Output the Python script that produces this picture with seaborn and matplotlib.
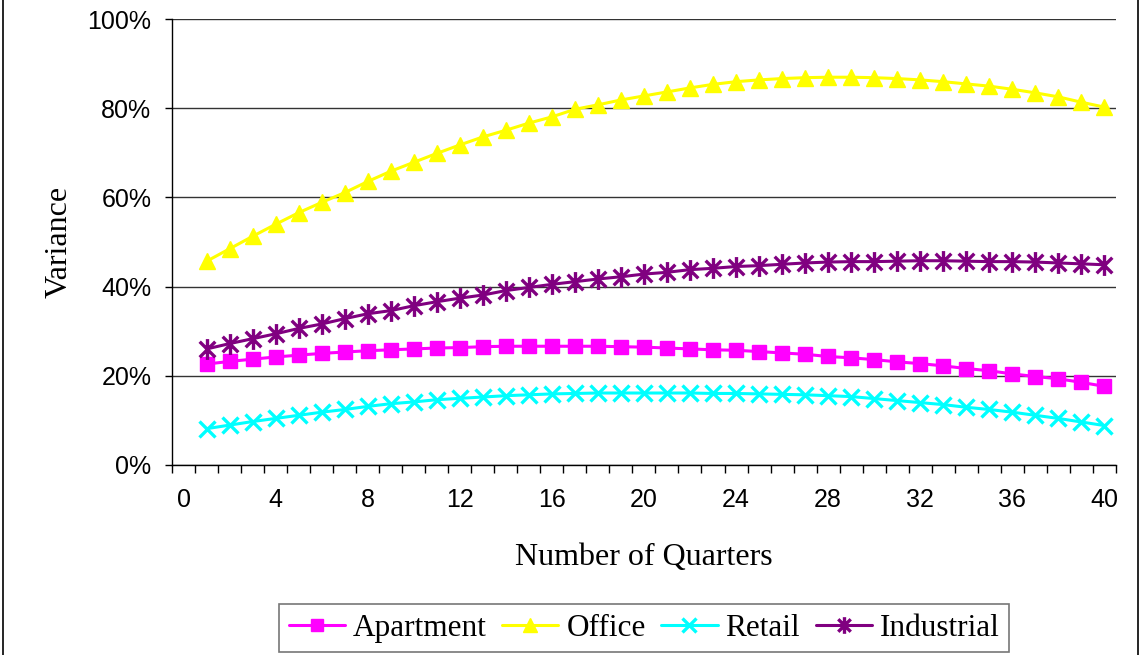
import numpy as np
import matplotlib
matplotlib.use("Agg")
import matplotlib.pyplot as plt
import seaborn as sns
from matplotlib.path import Path
from matplotlib.lines import Line2D
from matplotlib.ticker import PercentFormatter

# data (variance in %)
quarters = list(range(1, 41))

apartment = [22.6, 23.2, 23.7, 24.2, 24.6, 25.0, 25.3, 25.6, 25.8, 26.0,
             26.2, 26.3, 26.5, 26.6, 26.6, 26.6, 26.6, 26.6, 26.5, 26.4,
             26.2, 26.0, 25.8, 25.7, 25.4, 25.1, 24.8, 24.3, 24.0, 23.6,
             23.1, 22.7, 22.2, 21.6, 21.1, 20.4, 19.8, 19.3, 18.5, 17.6]

office = [45.7, 48.5, 51.3, 54.0, 56.6, 58.9, 61.1, 63.6, 65.9, 67.9,
          69.9, 71.8, 73.6, 75.1, 76.7, 78.1, 79.8, 80.8, 81.9, 82.8,
          83.7, 84.6, 85.4, 86.0, 86.4, 86.7, 86.9, 87.0, 87.0, 86.9,
          86.7, 86.4, 86.0, 85.5, 85.0, 84.3, 83.5, 82.6, 81.4, 80.3]

retail = [8.1, 8.9, 9.7, 10.4, 11.1, 11.8, 12.4, 13.1, 13.7, 14.1,
          14.6, 14.9, 15.2, 15.5, 15.7, 15.9, 16.0, 16.1, 16.1, 16.1,
          16.1, 16.1, 16.0, 16.0, 15.9, 15.8, 15.7, 15.5, 15.3, 14.85,
          14.4, 13.95, 13.5, 12.9, 12.4, 11.8, 11.1, 10.4, 9.6, 8.8]

industrial = [26.0, 27.2, 28.3, 29.4, 30.6, 31.6, 32.8, 33.9, 34.6, 35.7,
              36.6, 37.4, 38.1, 39.1, 39.8, 40.5, 41.1, 41.7, 42.2, 42.8,
              43.2, 43.8, 44.1, 44.5, 44.7, 45.0, 45.3, 45.5, 45.6, 45.6,
              45.7, 45.8, 45.8, 45.7, 45.6, 45.6, 45.5, 45.3, 45.1, 44.9]

sns.set_style("white")
plt.rcParams.update({"text.color": "black", "axes.labelcolor": "black",
                     "xtick.color": "black", "ytick.color": "black"})

# excel style asterisk: vertical bar plus an X
star = Path([(0, -1), (0, 1), (-0.75, -0.75), (0.75, 0.75), (-0.75, 0.75), (0.75, -0.75)],
            [Path.MOVETO, Path.LINETO] * 3)

fig = plt.figure(figsize=(11.43, 6.55), dpi=100)
ax = fig.add_axes([0.1507, 0.2905, 0.9761 - 0.1507, 0.9705 - 0.2905])

series = [
    ("Apartment", apartment, "#FF00FF", "s", 10.5, 1),
    ("Office", office, "#FFFF00", "^", 12, 1),
    ("Retail", retail, "#00FFFF", "x", 12, 2.4),
    ("Industrial", industrial, "#800080", star, 15, 2.4),
]
for name, vals, col, mk, ms, mew in series:
    sns.lineplot(x=quarters, y=vals, ax=ax, color=col, marker=mk, markersize=ms,
                 markeredgecolor=col, markerfacecolor=col, markeredgewidth=mew,
                 linewidth=2.2, label=name)

ax.set_xlim(-0.5, 40.5)
ax.set_ylim(0, 100)
ax.set_xticks(range(0, 41, 4))
ax.set_xticks(np.arange(-0.5, 41, 1), minor=True)
ax.set_yticks(range(0, 101, 20))
ax.yaxis.set_major_formatter(PercentFormatter(decimals=0))
ax.tick_params(axis="x", which="major", length=0, pad=17)
ax.tick_params(axis="x", which="minor", length=6, width=1, color="black", direction="out")
ax.tick_params(axis="y", which="major", length=5, width=1, color="black", direction="out", pad=10)
ax.xaxis.set_ticks_position("bottom")
ax.yaxis.set_ticks_position("left")
for lbl in ax.get_xticklabels() + ax.get_yticklabels():
    lbl.set_family(["Liberation Sans", "DejaVu Sans"])
    lbl.set_fontsize(18)
    lbl.set_color("black")

ax.grid(axis="y", color="#333333", linewidth=1)
ax.set_axisbelow(True)
for s in ["top", "right"]:
    ax.spines[s].set_visible(False)
for s in ["left", "bottom"]:
    ax.spines[s].set_color("black")
    ax.spines[s].set_linewidth(1)

serif = ["Liberation Serif", "DejaVu Serif"]
ax.set_xlabel("Number of Quarters", family=serif, fontsize=23, labelpad=22, color="black")
ax.set_ylabel("Variance", family=serif, fontsize=23, labelpad=10, color="black")

ax.get_legend().remove()
handles, labels = ax.get_legend_handles_labels()
leg = fig.legend(handles, labels, loc="center", bbox_to_anchor=(0.5635, 0.041),
                 ncol=4, frameon=True, fancybox=False, borderpad=0.3,
                 handlelength=1.8, handletextpad=0.25, columnspacing=0.5,
                 markerscale=0.8, prop={"family": serif, "size": 22.5})
leg.get_frame().set_edgecolor("#555555")
leg.get_frame().set_linewidth(1.2)
for t in leg.get_texts():
    t.set_color("black")

# outer chart border (left and right edges visible in the reference)
fig.add_artist(Line2D([3 / 1143, 3 / 1143], [0, 1], color="black", linewidth=1.2))
fig.add_artist(Line2D([1138 / 1143, 1138 / 1143], [0, 1], color="black", linewidth=1.2))

fig.savefig("out.png", dpi=100, facecolor="white")
